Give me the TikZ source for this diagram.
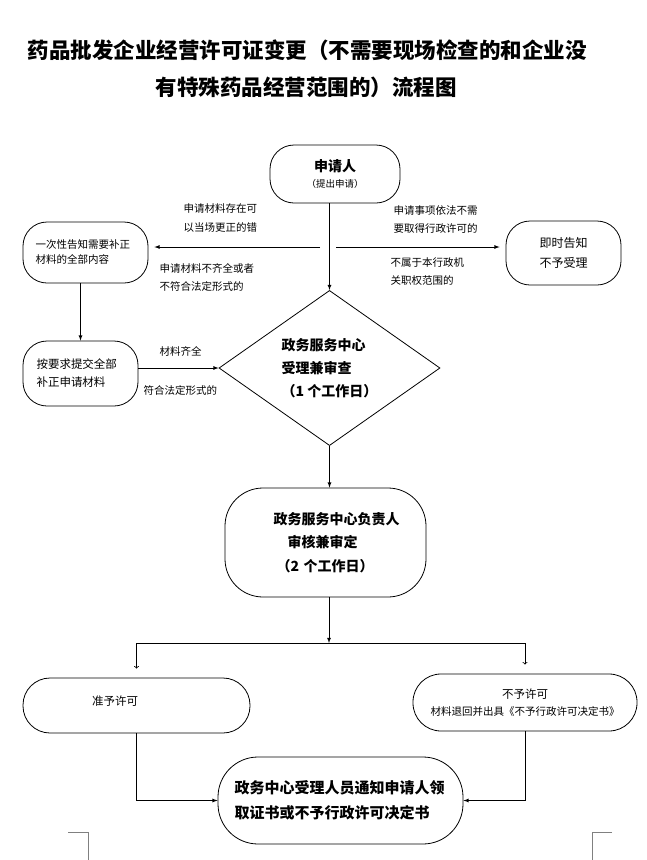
\documentclass[tikz,border=0pt]{standalone}
\usepackage{fontspec}
\setmainfont{Noto Sans CJK SC}
\usepackage{tikz}
\usetikzlibrary{shapes.geometric, arrows}
\tikzset{
    startstop/.style = {
        rectangle, draw, line width=0.8pt,
        rounded corners=24pt,
        inner sep=0pt,
        align=center
    },
    decision/.style = {
        diamond, draw, line width=0.8pt,
        inner sep=0pt,
        minimum width=221pt,
        minimum height=150pt,
        align=left
    },
    note/.style = {
        anchor=west, align=left,
        font=\fontsize{10.5}{18.5}\selectfont
    },
    arrow/.style = {
        -latex, line width=0.8pt
    },
    openarrow/.style = {
        ->, line width=0.8pt
    }
}

\begin{document}
\begin{tikzpicture}[x=1pt, y=-1pt]
\useasboundingbox (0,0) rectangle (647,860);

\node (title1) [anchor=west, font=\bfseries\fontsize{21.5}{26}\selectfont] at (24,50) {药品批发企业经营许可证变更（不需要现场检查的和企业没};
\node (title2) [anchor=west, font=\bfseries\fontsize{21.5}{26}\selectfont] at (152,87) {有特殊药品经营范围的）流程图};

\node (apply) [startstop, minimum width=130pt, minimum height=58pt, font=\fontsize{14}{16.5}\selectfont] at (335,174)
    {{\bfseries 申请人}\\{\fontsize{9.5}{16.5}\selectfont （提出申请）}};
\node (notify) [startstop, minimum width=125pt, minimum height=61pt, text width=100pt, align=left,
    font=\fontsize{10.5}{15}\selectfont] at (85.5,252.5) {一次性告知需要补正\\材料的全部内容};
\node (reject) [startstop, minimum width=115pt, minimum height=64pt,
    font=\fontsize{12}{20}\selectfont] at (563.5,253) {即时告知\\不予受理};
\node (resubmit) [startstop, minimum width=115pt, minimum height=65pt, text width=88pt, align=left,
    font=\fontsize{11.5}{18}\selectfont] at (80.5,373.5) {按要求提交全部\\补正申请材料};
\node (check) [decision, font=\bfseries\fontsize{14}{23}\selectfont] at (329.5,368)
    {政务服务中心\\受理兼审查\\（1 个工作日）};
\node (review) [startstop, rounded corners=38pt, minimum width=201pt, minimum height=109pt,
    text width=160pt, align=left, font=\bfseries\fontsize{14}{23.5}\selectfont] at (325.5,542.5)
    {\hspace*{28pt}政务服务中心负责人\\\hspace*{42pt}审核兼审定\\\hspace*{31pt}（2 个工作日）};
\node (approve) [startstop, rounded corners=27pt, minimum width=227pt, minimum height=55pt,
    text width=89pt, align=left, font=\fontsize{11.5}{14}\selectfont] at (136.5,705.5)
    {准予许可\rule[-10pt]{0pt}{0pt}};
\node (refuse) [startstop, rounded corners=28pt, minimum width=224pt, minimum height=57pt,
    font=\fontsize{11.5}{17}\selectfont] at (525,702.5)
    {不予许可\\{\fontsize{10.5}{17}\selectfont 材料退回并出具《不予行政许可决定书》}};
\node (result) [startstop, rounded corners=40pt, minimum width=245pt, minimum height=87pt,
    text width=212pt, align=left, font=\bfseries\fontsize{15}{25}\selectfont] at (340.5,800.5)
    {政务中心受理人员通知申请人领\\取证书或不予行政许可决定书};

\node (lab1) [note] at (180,218) {申请材料存在可\\以当场更正的错};
\node (lab2) [note] at (156,277.5) {申请材料不齐全或者\\不符合法定形式的};
\node (lab3) [note] at (390,219.5) {申请事项依法不需\\要取得行政许可的};
\node (lab4) [note] at (387,271.5) {不属于本行政机\\关职权范围的};
\node (lab5) [note] at (156,351) {材料齐全};
\node (lab6) [note] at (140,390) {符合法定形式的};

\coordinate (lsplit) at (320,247);
\coordinate (rsplit) at (336,247);
\coordinate (branch) at (329,643);

\draw [arrow] (check.north |- apply.south) -- (check.north);
\draw [arrow, shorten >=6pt] (lsplit) -- (lsplit -| notify.east);
\draw [arrow, shorten >=6pt] (rsplit) -- (rsplit -| reject.west);
\draw [arrow] (notify.south -| resubmit.north) -- (resubmit.north);
\draw [arrow] (resubmit.east |- check.west) -- (check.west);
\draw [arrow] (check.south) -- (check.south |- review.north);
\draw [arrow] (review.south -| branch) -- (branch);
\draw [openarrow, shorten >=9pt] (branch) -| (approve.north);
\draw [openarrow, shorten >=9pt] (branch) -| (refuse.north);
\draw [arrow] (approve.south) |- (result.west);
\draw [arrow] (refuse.south) |- (result.east);

% page corner marks
\draw [gray, line width=0.6pt] (68,832) -- (88,832) -- (88,860);
\draw [gray, line width=0.6pt] (612,832) -- (592,832) -- (592,860);

\end{tikzpicture}
\end{document}
